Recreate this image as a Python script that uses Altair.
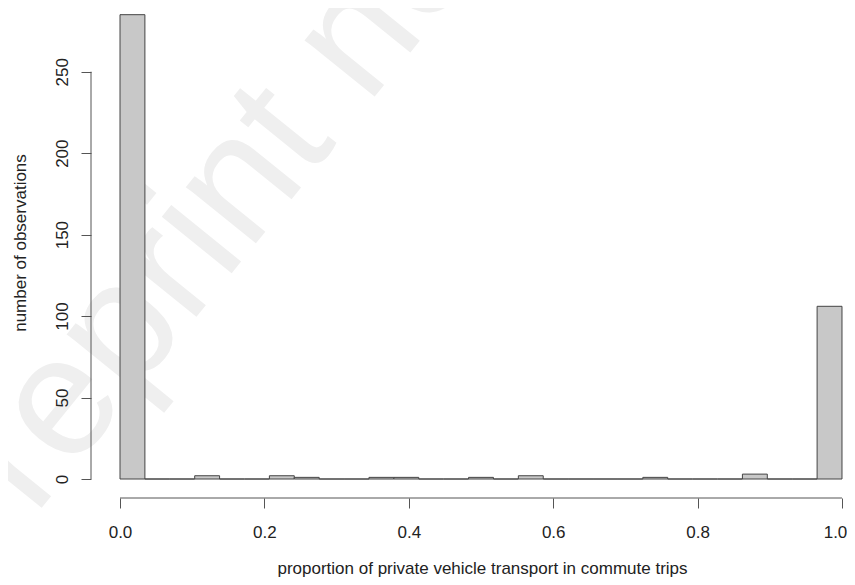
import altair as alt
import pandas as pd

# ---- data (29 equal bins on [0, 1]) ----
n_bins = 29
bin_breaks = [i / n_bins for i in range(n_bins + 1)]
counts = [285, 0, 0, 2, 0, 0, 2, 1, 0, 0, 1, 1, 0, 0, 1, 0, 2, 0, 0, 0,
          0, 1, 0, 0, 0, 3, 0, 0, 106]
x_ticks = [0.0, 0.2, 0.4, 0.6, 0.8, 1.0]
y_ticks = [0, 50, 100, 150, 200, 250]
x_title = "proportion of private vehicle transport in commute trips"
y_title = "number of observations"
watermark = ["Preprint not peer reviewed"]

FONT = "Liberation Sans"
W, H = 756, 490

bars_df = pd.DataFrame({
    "bin_start": bin_breaks[:-1],
    "bin_end": bin_breaks[1:],
    "count": counts,
})
wm_df = pd.DataFrame({"label": watermark})
one_df = pd.DataFrame({"k": [0]})

xscale = alt.Scale(domain=[-0.04017, 1.00693], nice=False, zero=False)
yscale = alt.Scale(domain=[-11.66, 289.1], nice=False, zero=False)

x_axis = alt.Axis(
    values=x_ticks, format=".1f", domain=False, grid=False, zindex=1,
    tickSize=10, tickColor="#555555", tickWidth=1,
    labelFont=FONT, labelFontSize=17, labelColor="#222222",
    labelBaseline="alphabetic", labelPadding=29, labelFlush=False,
    labelOverlap=False, labelBound=False,
    labelOffset={"condition": {"test": "datum.value >= 1", "value": -7}, "value": 0},
    title=x_title, titleFont=FONT, titleFontSize=17, titleFontWeight="normal",
    titleColor="#222222", titleX=391, titleY=75, titleAlign="center",
    titleBaseline="alphabetic", titleAnchor="middle",
)
y_axis = alt.Axis(
    values=y_ticks, format="d", domain=False, grid=False, zindex=1,
    tickSize=10, tickColor="#555555", tickWidth=1,
    labelFont=FONT, labelFontSize=17, labelColor="#222222",
    labelAngle=270, labelAlign="center", labelBaseline="alphabetic",
    labelPadding=14, labelFlush=False, labelOverlap=False, labelBound=False,
    title=y_title, titleFont=FONT, titleFontSize=17, titleFontWeight="normal",
    titleColor="#222222", titleAngle=270, titleX=-66, titleY=234.5,
    titleAlign="center", titleBaseline="alphabetic",
)

wm = alt.Chart(wm_df).mark_text(
    font=FONT, fontSize=170, color="#efefef", angle=309,
    align="left", baseline="alphabetic",
).encode(
    text="label:N",
    x=alt.value(-128),
    y=alt.value(597),
)

bars = alt.Chart(bars_df).mark_rect(
    fill="#c8c8c8", stroke="#444444", strokeWidth=1,
).encode(
    x=alt.X("bin_start:Q", scale=xscale, axis=x_axis),
    x2="bin_end:Q",
    y=alt.Y("count:Q", scale=yscale, axis=y_axis),
    y2=alt.datum(0),
)

x_line = alt.Chart(one_df).mark_rule(color="#555555", strokeWidth=1).encode(
    x=alt.datum(x_ticks[0]), x2=alt.datum(x_ticks[-1]), y=alt.value(H),
)
y_line = alt.Chart(one_df).mark_rule(color="#555555", strokeWidth=1).encode(
    y=alt.datum(y_ticks[0]), y2=alt.datum(y_ticks[-1]), x=alt.value(0),
)

chart = alt.layer(wm, bars, x_line, y_line).properties(
    width=W, height=H,
    autosize=alt.AutoSizeParams(type="none"),
    padding={"left": 83, "top": 0, "right": 0, "bottom": 79},
    background="white",
).configure_view(stroke=None)

chart.save("out.html", embed_options={"renderer": "svg", "actions": False})
